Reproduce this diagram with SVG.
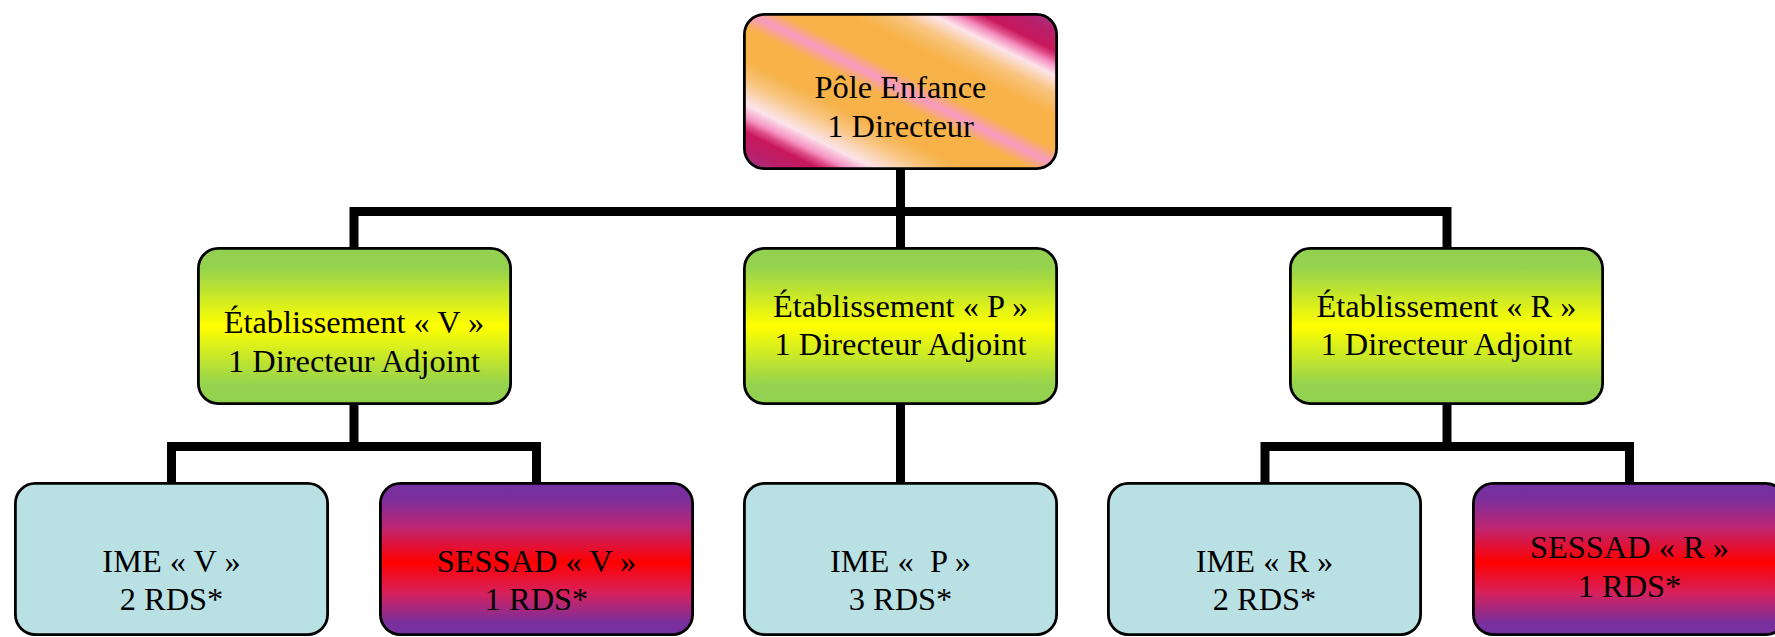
<svg xmlns="http://www.w3.org/2000/svg" width="1775" height="637" viewBox="0 0 1775 637">
<style>
.box{stroke:#000;stroke-width:2.8}
.t{font-family:"Liberation Serif","Times New Roman",serif;font-size:32.4px;fill:#000;text-anchor:middle}
.c{fill:none;stroke:#000;stroke-width:9;stroke-linejoin:miter;stroke-linecap:butt}
</style>
<defs>
<linearGradient id="gTop" x1="0" y1="1" x2="1" y2="0">
<stop offset="0" stop-color="#9A3A90"/>
<stop offset="0.06" stop-color="#B8206A"/>
<stop offset="0.12" stop-color="#C8175C"/>
<stop offset="0.145" stop-color="#E0508A"/>
<stop offset="0.165" stop-color="#F590C2"/>
<stop offset="0.21" stop-color="#FCE4EA"/>
<stop offset="0.29" stop-color="#F8C47E"/>
<stop offset="0.35" stop-color="#F7B24A"/>
<stop offset="0.46" stop-color="#F7B24A"/>
<stop offset="0.51" stop-color="#F69AC4"/>
<stop offset="0.56" stop-color="#F7B24A"/>
<stop offset="0.67" stop-color="#F7B24A"/>
<stop offset="0.74" stop-color="#F8C47E"/>
<stop offset="0.8" stop-color="#FCE4EA"/>
<stop offset="0.835" stop-color="#F590C2"/>
<stop offset="0.855" stop-color="#E0508A"/>
<stop offset="0.88" stop-color="#C8175C"/>
<stop offset="0.94" stop-color="#B8206A"/>
<stop offset="1" stop-color="#9A3A90"/>
</linearGradient>
<linearGradient id="gGreen" x1="0" y1="0" x2="0" y2="1">
<stop offset="0" stop-color="#92D050"/>
<stop offset="0.12" stop-color="#94D24F"/>
<stop offset="0.5" stop-color="#FFFF00"/>
<stop offset="0.88" stop-color="#94D24F"/>
<stop offset="1" stop-color="#92D050"/>
</linearGradient>
<linearGradient id="gRed" x1="0" y1="0" x2="0" y2="1">
<stop offset="0" stop-color="#7530A0"/>
<stop offset="0.1" stop-color="#7A2F9C"/>
<stop offset="0.3" stop-color="#C02470"/>
<stop offset="0.52" stop-color="#FF0000"/>
<stop offset="0.72" stop-color="#D8205A"/>
<stop offset="0.92" stop-color="#7A2F9C"/>
<stop offset="1" stop-color="#7530A0"/>
</linearGradient>
</defs>
<rect width="1775" height="637" fill="#fff"/>
<g id="connectors">
<path class="c" d="M900.5 170 V247"/>
<path class="c" d="M354 247 V211.5 H1447 V247"/>
<path class="c" d="M354 405 V446.5"/>
<path class="c" d="M171.5 482 V446.5 H536.5 V482"/>
<path class="c" d="M900.5 405 V482"/>
<path class="c" d="M1447 405 V446.5"/>
<path class="c" d="M1265 482 V446.5 H1629.5 V482"/>
</g>
<g id="pole">
<rect class="box" x="744.4" y="14.4" width="312.2" height="154.2" rx="20" fill="url(#gTop)"/>
<text class="t" x="900.5" y="98">Pôle Enfance</text>
<text class="t" x="900.5" y="137">1 Directeur</text>
</g>
<g id="etab-v">
<rect class="box" x="198.4" y="248.4" width="312.2" height="155.2" rx="20" fill="url(#gGreen)"/>
<text class="t" x="354" y="333">Établissement « V »</text>
<text class="t" x="354" y="372">1 Directeur Adjoint</text>
</g>
<g id="etab-p">
<rect class="box" x="744.4" y="248.4" width="312.2" height="155.2" rx="20" fill="url(#gGreen)"/>
<text class="t" x="900.5" y="317">Établissement « P »</text>
<text class="t" x="900.5" y="355">1 Directeur Adjoint</text>
</g>
<g id="etab-r">
<rect class="box" x="1290.4" y="248.4" width="312.2" height="155.2" rx="20" fill="url(#gGreen)"/>
<text class="t" x="1446.5" y="317">Établissement « R »</text>
<text class="t" x="1446.5" y="355">1 Directeur Adjoint</text>
</g>
<g id="ime-v">
<rect class="box" x="15.4" y="483.4" width="312.2" height="151.2" rx="20" fill="#B9E0E3"/>
<text class="t" x="171.5" y="572">IME « V »</text>
<text class="t" x="171.5" y="610">2 RDS*</text>
</g>
<g id="sessad-v">
<rect class="box" x="380.4" y="483.4" width="312.2" height="151.2" rx="20" fill="url(#gRed)"/>
<text class="t" x="536.5" y="572">SESSAD « V »</text>
<text class="t" x="536.5" y="610">1 RDS*</text>
</g>
<g id="ime-p">
<rect class="box" x="744.4" y="483.4" width="312.2" height="151.2" rx="20" fill="#B9E0E3"/>
<text class="t" x="900.5" y="572" xml:space="preserve">IME «  P »</text>
<text class="t" x="900.5" y="610">3 RDS*</text>
</g>
<g id="ime-r">
<rect class="box" x="1108.4" y="483.4" width="312.2" height="151.2" rx="20" fill="#B9E0E3"/>
<text class="t" x="1264.5" y="572">IME « R »</text>
<text class="t" x="1264.5" y="610">2 RDS*</text>
</g>
<g id="sessad-r">
<rect class="box" x="1473.4" y="483.4" width="312.2" height="151.2" rx="20" fill="url(#gRed)"/>
<text class="t" x="1629.5" y="558">SESSAD « R »</text>
<text class="t" x="1629.5" y="597">1 RDS*</text>
</g>
</svg>
